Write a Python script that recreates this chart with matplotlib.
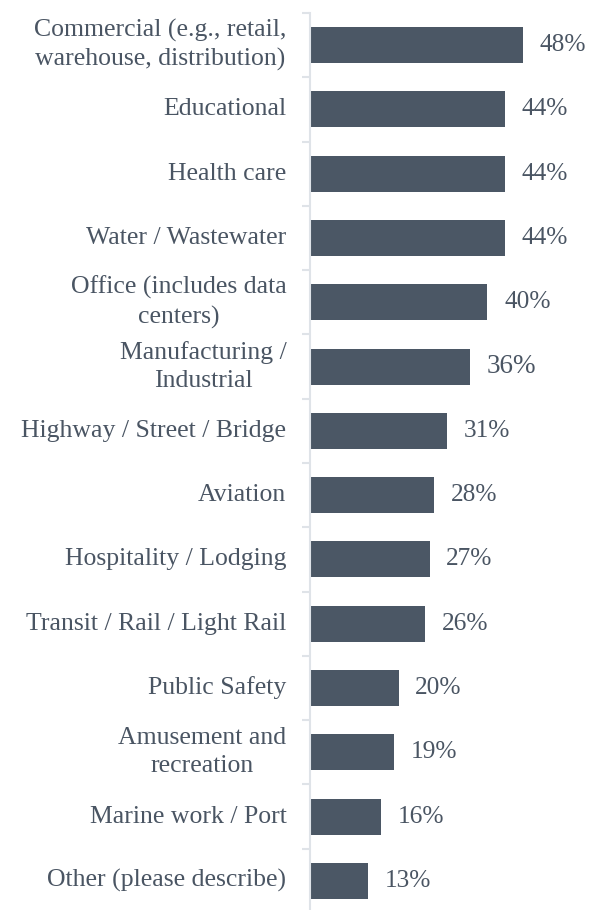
import matplotlib.pyplot as plt
import numpy as np

# data
categories = [
    "Commercial (e.g., retail,\nwarehouse, distribution)",
    "Educational",
    "Health care",
    "Water / Wastewater",
    "Office (includes data\ncenters)",
    "Manufacturing /\nIndustrial",
    "Highway / Street / Bridge",
    "Aviation",
    "Hospitality / Lodging",
    "Transit / Rail / Light Rail",
    "Public Safety",
    "Amusement and\nrecreation",
    "Marine work / Port",
    "Other (please describe)",
]
values = [48, 44, 44, 44, 40, 36, 31, 28, 27, 26, 20, 19, 16, 13]
value_labels = ["48%", "44%", "44%", "44%", "40%", "36%", "31%", "28%",
                "27%", "26%", "20%", "19%", "16%", "13%"]

bar_color = "#4b5765"
text_color = "#4a5563"
axis_color = "#dfe3e8"
font = "Liberation Serif"

fig = plt.figure(figsize=(6.1, 9.1), dpi=100)
# axes: left edge at x=310px, top at 13px, bottom just below the figure
ax = fig.add_axes([310 / 610, -3 / 910, 266 / 610, 900 / 910])

n = len(categories)
y = np.arange(n)
ax.barh(y, values, height=0.56, color=bar_color, zorder=2)
ax.set_ylim(n - 0.5, -0.5)
ax.set_xlim(0, 60)

for i, (v, lab) in enumerate(zip(values, value_labels)):
    size = 19.5 if lab == "36%" else 18.3
    ax.annotate(lab, (v, i), xytext=(12, 0), textcoords="offset points",
                ha="left", va="center", fontsize=size, color=text_color,
                family=font)

for i, cat in enumerate(categories):
    ax.annotate(cat, (0, i), xycoords=("axes fraction", "data"),
                xytext=(-17, 0), textcoords="offset points",
                ha="right", va="center", multialignment="center",
                fontsize=18.5, color=text_color, family=font,
                linespacing=1.36)

for s in ["top", "right", "bottom"]:
    ax.spines[s].set_visible(False)
ax.spines["left"].set_color(axis_color)
ax.spines["left"].set_linewidth(1.5)

ax.set_xticks([])
ax.set_yticks([])
ax.set_yticks(np.arange(-0.5, n, 1), minor=True)
ax.tick_params(axis="y", which="minor", length=6, width=1.5,
               color=axis_color, labelleft=False)

fig.savefig("out.png", dpi=100)
